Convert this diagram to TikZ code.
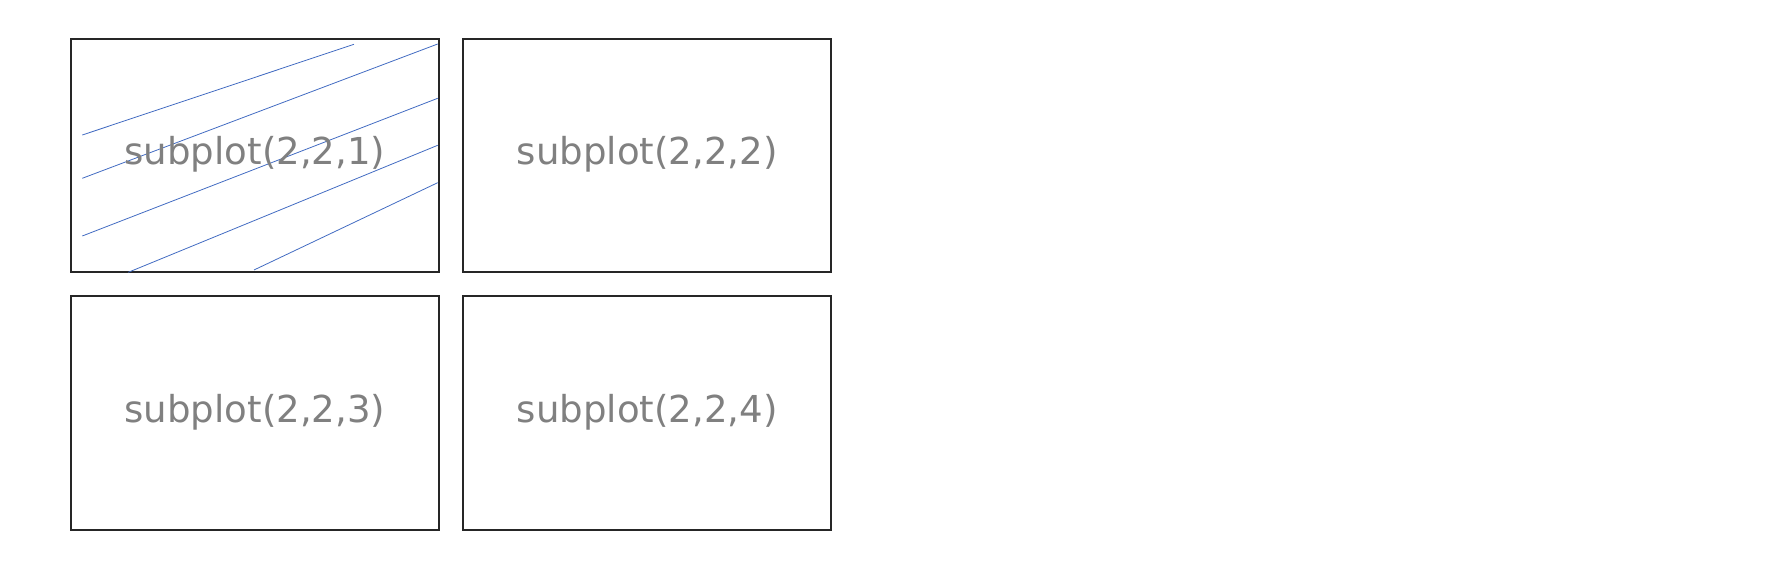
\documentclass[tikz,border=0pt]{standalone}
\usepackage{fontspec}
\setmainfont{DejaVu Sans}
\definecolor{lineblue}{rgb}{0.26,0.42,0.76}
\definecolor{txtgray}{rgb}{0.5,0.5,0.5}
\begin{document}
\begin{tikzpicture}[x=1pt,y=1pt,
  panel/.style={draw=black!85, line width=1.8pt, minimum width=368.3pt, minimum height=233.6pt, inner sep=0pt},
  lbl/.style={text=txtgray, font=\fontsize{37.1}{41}\selectfont, inner sep=0pt, anchor=base},
  hatch/.style={draw=lineblue, line width=0.8pt}]
\useasboundingbox (0,0) rectangle (1772,580);
\node[panel] (b1) at (254.9,424.5) {};
\node[panel] (b2) at (647.2,424.5) {};
\node[panel] (b3) at (254.9,167) {};
\node[panel] (b4) at (647.2,167) {};
\draw[hatch] (82.3,445) -- (354,535.7);
\draw[hatch] (82.3,401.7) -- (437.7,536);
\draw[hatch] (82.3,344) -- (437.7,481.7);
\draw[hatch] (128.3,307.7) -- (437.7,434.7);
\draw[hatch] (254,310) -- (437.7,397.3);
\node[lbl] (t1) at ([yshift=-9.5pt]b1.center) {subplot(2,2,1)};
\node[lbl] (t2) at ([yshift=-9.5pt]b2.center) {subplot(2,2,2)};
\node[lbl] (t3) at ([yshift=-9.5pt]b3.center) {subplot(2,2,3)};
\node[lbl] (t4) at ([yshift=-9.5pt]b4.center) {subplot(2,2,4)};
\end{tikzpicture}
\end{document}
